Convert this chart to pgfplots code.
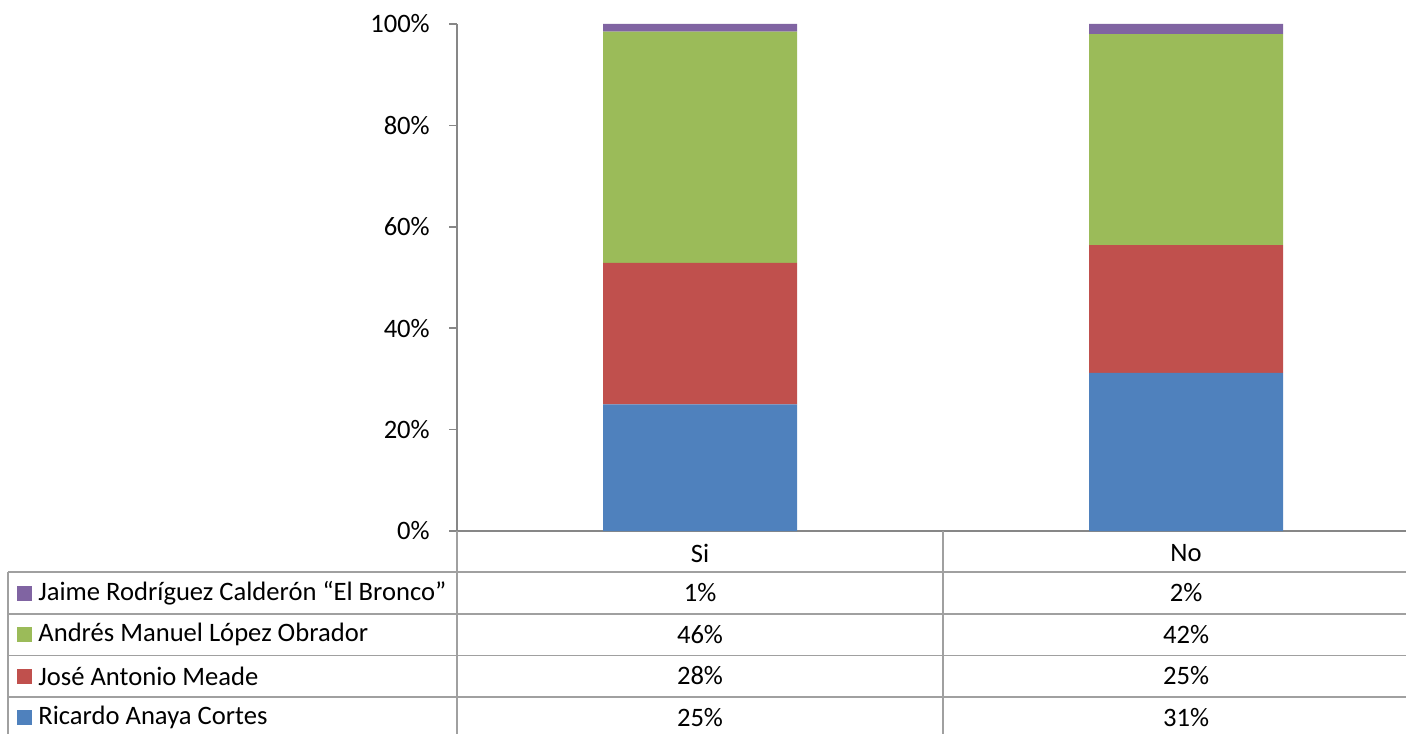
\documentclass[border=0pt]{standalone}
\usepackage{pgfplots}
\pgfplotsset{compat=1.18}
\usepackage{fontspec}
\setmainfont{Carlito}
\definecolor{cblue}{HTML}{4F81BD}
\definecolor{cred}{HTML}{C0504D}
\definecolor{cgreen}{HTML}{9BBB59}
\definecolor{cpurple}{HTML}{8064A2}
\definecolor{axgray}{HTML}{878787}
\definecolor{tabgray}{HTML}{A0A0A0}
\begin{document}
\fontsize{13.3}{16}\selectfont
\begin{tikzpicture}
\begin{axis}[
  at={(228.5pt,-12pt)}, anchor=north west,
  scale only axis, width=486pt, height=253.5pt,
  ybar stacked, bar width=97pt,
  xmin=-0.5, xmax=1.5, ymin=0, ymax=100,
  axis x line=bottom, axis y line=left,
  axis line style={draw=axgray, line width=0.75pt, -},
  xtick={0,1}, xticklabels={Si,No},
  xtick style={draw=none},
  xticklabel style={anchor=center, yshift=-7.25pt},
  ytick={0,20,40,60,80,100},
  ytick style={draw=axgray, line width=0.75pt},
  tick align=outside, major tick length=4pt,
  yticklabel={\pgfmathprintnumber{\tick}\%},
  yticklabel style={xshift=-5pt},
  /pgf/number format/assume math mode=true,
  clip=false,
]
\addplot[fill=cblue, draw=none] coordinates {(0,25.0) (1,31.2)};
\addplot[fill=cred, draw=none] coordinates {(0,27.9) (1,25.2)};
\addplot[fill=cgreen, draw=none] coordinates {(0,45.6) (1,41.6)};
\addplot[fill=cpurple, draw=none] coordinates {(0,1.5) (1,2.0)};
\end{axis}
\begin{scope}[x=0.5pt,y=-0.5pt]
  \draw[tabgray, line width=0.75pt] (8,572) -- (1406,572);
  \draw[tabgray, line width=0.75pt] (8,614) -- (1406,614);
  \draw[tabgray, line width=0.75pt] (8,655.5) -- (1406,655.5);
  \draw[tabgray, line width=0.75pt] (8,697) -- (1406,697);
  \draw[tabgray, line width=0.75pt] (8,572) -- (8,740);
  \draw[tabgray, line width=0.75pt] (457,531) -- (457,740);
  \draw[tabgray, line width=0.75pt] (943,531) -- (943,740);
  % legend keys
  \fill[cpurple] (17,585.5) rectangle (32,600.5);
  \fill[cgreen] (17,627) rectangle (32,642);
  \fill[cred] (17,668.5) rectangle (32,683.5);
  \fill[cblue] (17,710) rectangle (32,725);
  \node[anchor=west, inner sep=0pt] at (38,593) {Jaime Rodríguez Calderón “El Bronco”};
  \node[anchor=west, inner sep=0pt] at (38,634.5) {Andrés Manuel López Obrador};
  \node[anchor=west, inner sep=0pt] at (38,676) {José Antonio Meade};
  \node[anchor=west, inner sep=0pt] at (38,717.5) {Ricardo Anaya Cortes};
  % values
  \node at (700,593) {1\%};
  \node at (1186,593) {2\%};
  \node at (700,634.5) {46\%};
  \node at (1186,634.5) {42\%};
  \node at (700,676) {28\%};
  \node at (1186,676) {25\%};
  \node at (700,717.5) {25\%};
  \node at (1186,717.5) {31\%};
  \pgfresetboundingbox
  \path[use as bounding box] (0,0) rectangle (1406,733);
\end{scope}
\end{tikzpicture}
\end{document}
